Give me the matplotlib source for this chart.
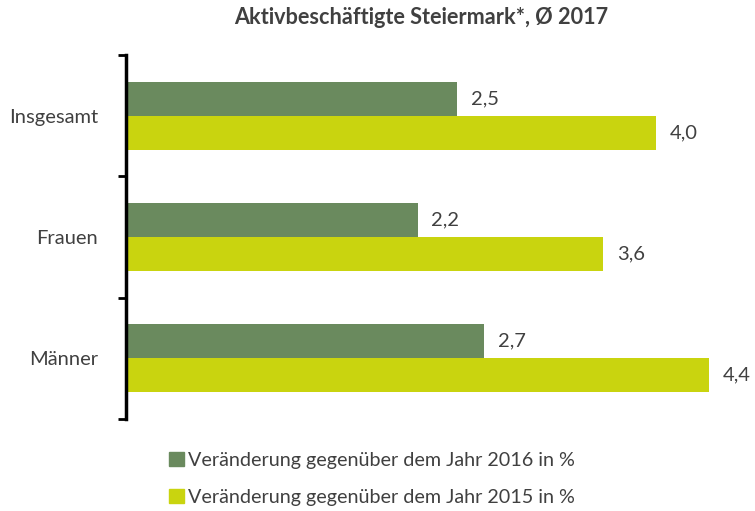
import matplotlib
matplotlib.use("Agg")
import matplotlib.pyplot as plt
from matplotlib.patches import Patch
import numpy as np

categories = ["Insgesamt", "Frauen", "Männer"]
series_2016 = [2.5, 2.2, 2.7]
series_2015 = [4.0, 3.6, 4.4]
labels_series = ["Veränderung gegenüber dem Jahr 2016 in %",
                 "Veränderung gegenüber dem Jahr 2015 in %"]
title = "Aktivbeschäftigte Steiermark*, Ø 2017"

c_dark = "#6A8A5E"
c_yel = "#C9D40F"
txt = "#404040"

plt.rcParams['font.family'] = ['Lato', 'DejaVu Sans']

fig = plt.figure(figsize=(7.55, 5.11), dpi=100)
ax = fig.add_axes([126/755, (511-419)/511, (730-126)/755, 364/511])

y = np.arange(len(categories))
h = 0.28
b1 = ax.barh(y - h/2, series_2016, height=h, color=c_dark)
b2 = ax.barh(y + h/2, series_2015, height=h, color=c_yel)

for bars, vals in ((b1, series_2016), (b2, series_2015)):
    for r, v in zip(bars, vals):
        ax.annotate(f"{v:.1f}".replace(".", ","), (v, r.get_y() + r.get_height()/2),
                    xytext=(14, 0), textcoords="offset pixels",
                    va="center", ha="left", fontsize=14.5, color=txt)

ax.set_xlim(0, (730-126)/132.5)
ax.set_ylim(len(categories) - 0.5, -0.5)
ax.set_yticks(np.arange(len(categories) + 1) - 0.5)
ax.set_yticklabels([])
ax.set_yticks(y, minor=True)
ax.set_yticklabels(categories, minor=True, fontsize=14.5, color=txt)
ax.tick_params(axis="y", which="minor", length=0, pad=20)
ax.tick_params(axis="y", which="major", length=6, width=2, direction="out")
ax.set_xticks([])
for s in ("top", "right", "bottom"):
    ax.spines[s].set_visible(False)
ax.spines["left"].set_linewidth(2.5)

fig.text(421/755, 1 - 18/511, title, ha="center", va="center",
         fontsize=15.6, fontweight="bold", color=txt)

handles = [Patch(color=c_dark), Patch(color=c_yel)]
fig.legend(handles, labels_series, loc="center left",
           bbox_to_anchor=(151/755, 1 - 479/511), frameon=False,
           handlelength=0.75, handleheight=0.75, handletextpad=0.25,
           labelspacing=1.0, fontsize=14.2, labelcolor=txt)

fig.savefig("out.png", dpi=100)
